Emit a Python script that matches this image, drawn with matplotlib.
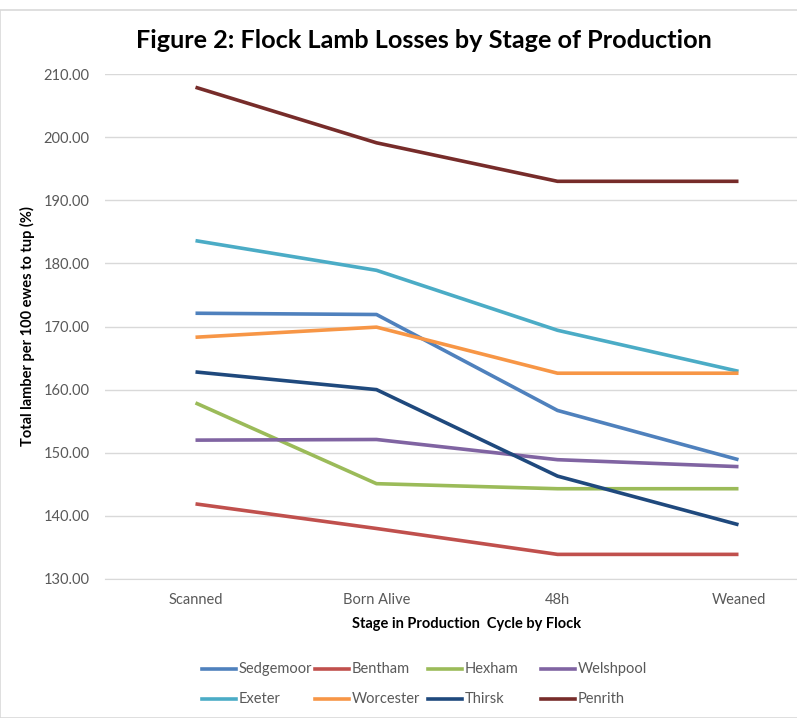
import matplotlib.pyplot as plt
from matplotlib.patches import Rectangle
from matplotlib.lines import Line2D

stages = ['Scanned', 'Born Alive', '48h', 'Weaned']

flocks = ['Sedgemoor', 'Bentham', 'Hexham', 'Welshpool',
          'Exeter', 'Worcester', 'Thirsk', 'Penrith']

sedgemoor = [172.1, 171.9, 156.7, 148.9]
bentham = [141.9, 138.0, 133.9, 133.9]
hexham = [157.9, 145.1, 144.3, 144.3]
welshpool = [152.0, 152.1, 148.9, 147.8]
exeter = [183.6, 178.9, 169.4, 162.9]
worcester = [168.3, 169.9, 162.6, 162.6]
thirsk = [162.8, 160.0, 146.3, 138.6]
penrith = [207.9, 199.1, 193.0, 193.0]

series = [sedgemoor, bentham, hexham, welshpool,
          exeter, worcester, thirsk, penrith]
colours = ['#4F81BD', '#C0504D', '#9BBB59', '#8064A2',
           '#4BACC6', '#F79646', '#1F497D', '#772C2A']

plt.rcParams['font.family'] = ['Lato', 'DejaVu Sans']

W, H = 797, 718
fig = plt.figure(figsize=(W / 100, H / 100), dpi=100)
# chart border (cropped on right/bottom in the original)
fig.patches.append(Rectangle((0.0, 0.0), 1.2, 708 / H, transform=fig.transFigure,
                             fill=False, edgecolor='#D9D9D9', linewidth=1.2))

# axes runs past the right edge of the image, like the original screenshot
ax = fig.add_axes([105 / W, (H - 579) / H, 724 / W, 505 / H])
x = range(len(stages))
for name, vals, c in zip(flocks, series, colours):
    ax.plot(x, vals, color=c, linewidth=2.6, label=name, solid_capstyle='butt')

ax.set_xlim(-0.5, 3.5)
ax.set_ylim(130, 210)
ax.set_yticks(range(130, 211, 10))
ax.set_yticklabels([f'{v:.2f}' for v in range(130, 211, 10)])
ax.set_xticks(list(x))
ax.set_xticklabels(stages)
ax.grid(axis='y', color='#D9D9D9', linewidth=1)
ax.set_axisbelow(True)
for s in ['top', 'right', 'left']:
    ax.spines[s].set_visible(False)
ax.spines['bottom'].set_color('#D9D9D9')
ax.tick_params(length=0, labelsize=10.5, labelcolor='#595959')
ax.tick_params(axis='y', pad=11)
ax.tick_params(axis='x', pad=10)

ax.set_ylabel('Total lamber per 100 ewes to tup (%)', fontsize=10.5,
              fontweight='bold', labelpad=6)
ax.set_xlabel('Stage in Production  Cycle by Flock', fontsize=10.5,
              fontweight='bold', labelpad=7)

fig.text(424 / W, 1 - 40 / H, 'Figure 2: Flock Lamb Losses by Stage of Production',
         ha='center', va='center', fontsize=18.2, fontweight='bold')

# legend: 4 columns x 2 rows, row-wise order, fixed column spacing
col_x = [202, 315, 428, 541]
row_y = [669, 699]
for i, (name, c) in enumerate(zip(flocks, colours)):
    lx = col_x[i % 4]
    ly = 1 - row_y[i // 4] / H
    fig.add_artist(Line2D([lx / W, (lx + 34) / W], [ly, ly], color=c,
                          linewidth=2.6, transform=fig.transFigure))
    fig.text((lx + 37) / W, ly, name, ha='left', va='center',
             fontsize=10.5, color='#595959')

plt.savefig('out.png', dpi=100)
